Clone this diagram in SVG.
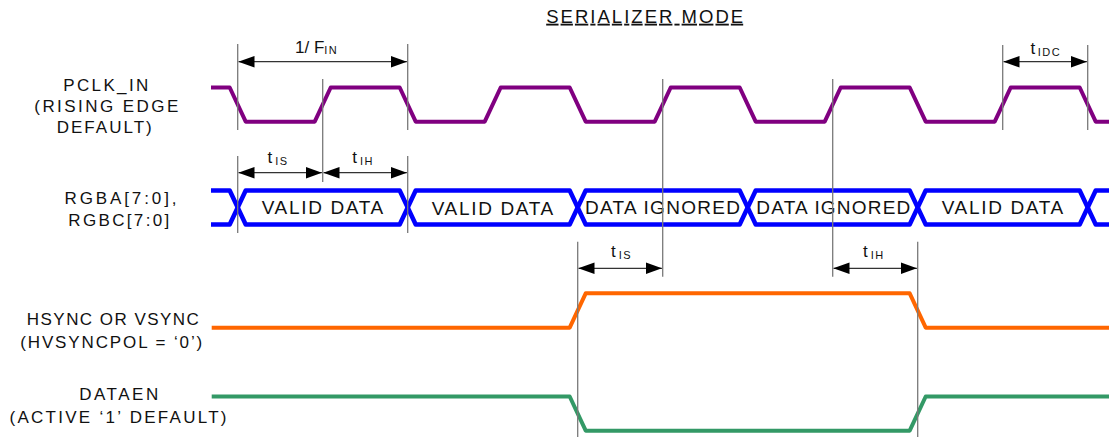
<svg xmlns="http://www.w3.org/2000/svg" width="1109" height="438" viewBox="0 0 1109 438">
<style>
text{font-family:"Liberation Sans",Arial,sans-serif;fill:#111}
.lbl{font-size:17px;text-anchor:middle}
.bus{font-size:19px;text-anchor:middle}
.tm{font-size:17px}
.sub{font-size:11px;letter-spacing:1.5px}
.guide{stroke:#7a7a7a;stroke-width:1.3;fill:none}
.dim{stroke:#333;stroke-width:1.3;fill:none;marker-start:url(#ah);marker-end:url(#ah)}
.sig{fill:none;stroke-linejoin:round}
</style>
<defs>
<marker id="ah" markerUnits="userSpaceOnUse" markerWidth="16" markerHeight="12" viewBox="0 0 14 10" refX="14" refY="5" orient="auto-start-reverse">
<path d="M0,0 L14,5 L0,10 Z" fill="#000"/>
</marker>
</defs>
<rect width="1109" height="438" fill="#fff"/>

<g id="title">
<text x="644.7" y="22.7" font-size="18.5" text-anchor="middle" textLength="197" lengthAdjust="spacing" text-decoration="underline">SERIALIZER MODE</text>
</g>

<g id="labels">
<text class="lbl" x="105.8" y="90.7" textLength="85" lengthAdjust="spacing">PCLK_IN</text>
<text class="lbl" x="106.3" y="111.7" textLength="144" lengthAdjust="spacing">(RISING EDGE</text>
<text class="lbl" x="104.2" y="133.3" textLength="95" lengthAdjust="spacing">DEFAULT)</text>
<text class="lbl" x="120.5" y="204" textLength="112" lengthAdjust="spacing">RGBA[7:0],</text>
<text class="lbl" x="118.8" y="226" textLength="101" lengthAdjust="spacing">RGBC[7:0]</text>
<text class="lbl" x="112.8" y="325" textLength="172" lengthAdjust="spacing">HSYNC OR VSYNC</text>
<text class="lbl" x="111.2" y="347.7" textLength="182" lengthAdjust="spacing">(HVSYNCPOL = ‘0’)</text>
<text class="lbl" x="118.7" y="400" textLength="79" lengthAdjust="spacing">DATAEN</text>
<text class="lbl" x="118" y="422.7" textLength="217" lengthAdjust="spacing">(ACTIVE ‘1’ DEFAULT)</text>
</g>

<g id="pclk">
<path class="sig" stroke="#800080" stroke-width="4" d="M211,87.5 H229.7 L245.7,121.7 H314.7 L330.7,87.5 H399.7 L415.7,121.7 H484.7 L500.7,87.5 H569.7 L585.7,121.7 H654.7 L670.7,87.5 H739.7 L755.7,121.7 H824.7 L840.7,87.5 H909.7 L925.7,121.7 H994.7 L1010.7,87.5 H1079.7 L1095.7,121.7 H1109"/>
</g>

<g id="rgb-bus">
<path class="sig" stroke="#0000ff" stroke-width="4.5" d="M211,190.5 H229.7 L245.7,224.5 H399.7 L415.7,190.5 H569.7 L585.7,224.5 H739.7 L755.7,190.5 H909.7 L925.7,224.5 H1079.7 L1095.7,190.5 H1109"/>
<path class="sig" stroke="#0000ff" stroke-width="4.5" d="M211,224.5 H229.7 L245.7,190.5 H399.7 L415.7,224.5 H569.7 L585.7,190.5 H739.7 L755.7,224.5 H909.7 L925.7,190.5 H1079.7 L1095.7,224.5 H1109"/>
<text class="bus" x="322.5" y="214.3" textLength="121.6" lengthAdjust="spacing">VALID DATA</text>
<text class="bus" x="492.5" y="214.5" textLength="121.6" lengthAdjust="spacing">VALID DATA</text>
<text class="bus" x="662.5" y="214.3" textLength="155" lengthAdjust="spacing">DATA IGNORED</text>
<text class="bus" x="833.3" y="214.3" textLength="154" lengthAdjust="spacing">DATA IGNORED</text>
<text class="bus" x="1002.5" y="214.3" textLength="121.6" lengthAdjust="spacing">VALID DATA</text>
</g>

<g id="hsync">
<path class="sig" stroke="#ff6600" stroke-width="4" d="M211.7,327.7 H569.7 L585.7,293.3 H909.7 L925.7,327.7 H1109"/>
</g>

<g id="dataen">
<path class="sig" stroke="#339966" stroke-width="4" d="M211.7,396.5 H569.7 L585.7,430.7 H909.7 L925.7,396.5 H1109"/>
</g>

<g id="connectors">
<path class="guide" d="M237.7,44 V130 M237.7,156 V233 M407.7,44 V130 M407.7,156 V233 M322.7,79 V182 M662.7,79 V276.7 M832.7,79 V276.7 M577.7,241.7 V437 M917.7,241.7 V437 M1002.7,45 V130 M1087.7,45 V130"/>
<line class="dim" x1="238.5" y1="61.7" x2="406.9" y2="61.7"/>
<line class="dim" x1="238.5" y1="172.7" x2="321.9" y2="172.7"/>
<line class="dim" x1="323.5" y1="172.7" x2="406.9" y2="172.7"/>
<line class="dim" x1="1003.5" y1="61.7" x2="1086.9" y2="61.7"/>
<line class="dim" x1="578.5" y1="268.3" x2="661.9" y2="268.3"/>
<line class="dim" x1="833.5" y1="268.3" x2="916.9" y2="268.3"/>
</g>

<g id="timing-labels">
<text class="tm" x="295" y="52.7">1/ F<tspan class="sub" dy="1.7">IN</tspan></text>
<text class="tm" x="267.5" y="163.3">t<tspan class="sub" dx="3" dy="1.5">IS</tspan></text>
<text class="tm" x="352.2" y="163.3">t<tspan class="sub" dx="3" dy="1.5">IH</tspan></text>
<text class="tm" x="1030.5" y="54">t<tspan class="sub" dx="2.5" dy="1.5">IDC</tspan></text>
<text class="tm" x="611" y="257.3">t<tspan class="sub" dx="3" dy="1.5">IS</tspan></text>
<text class="tm" x="863" y="257.3">t<tspan class="sub" dx="3" dy="1.5">IH</tspan></text>
</g>
</svg>
